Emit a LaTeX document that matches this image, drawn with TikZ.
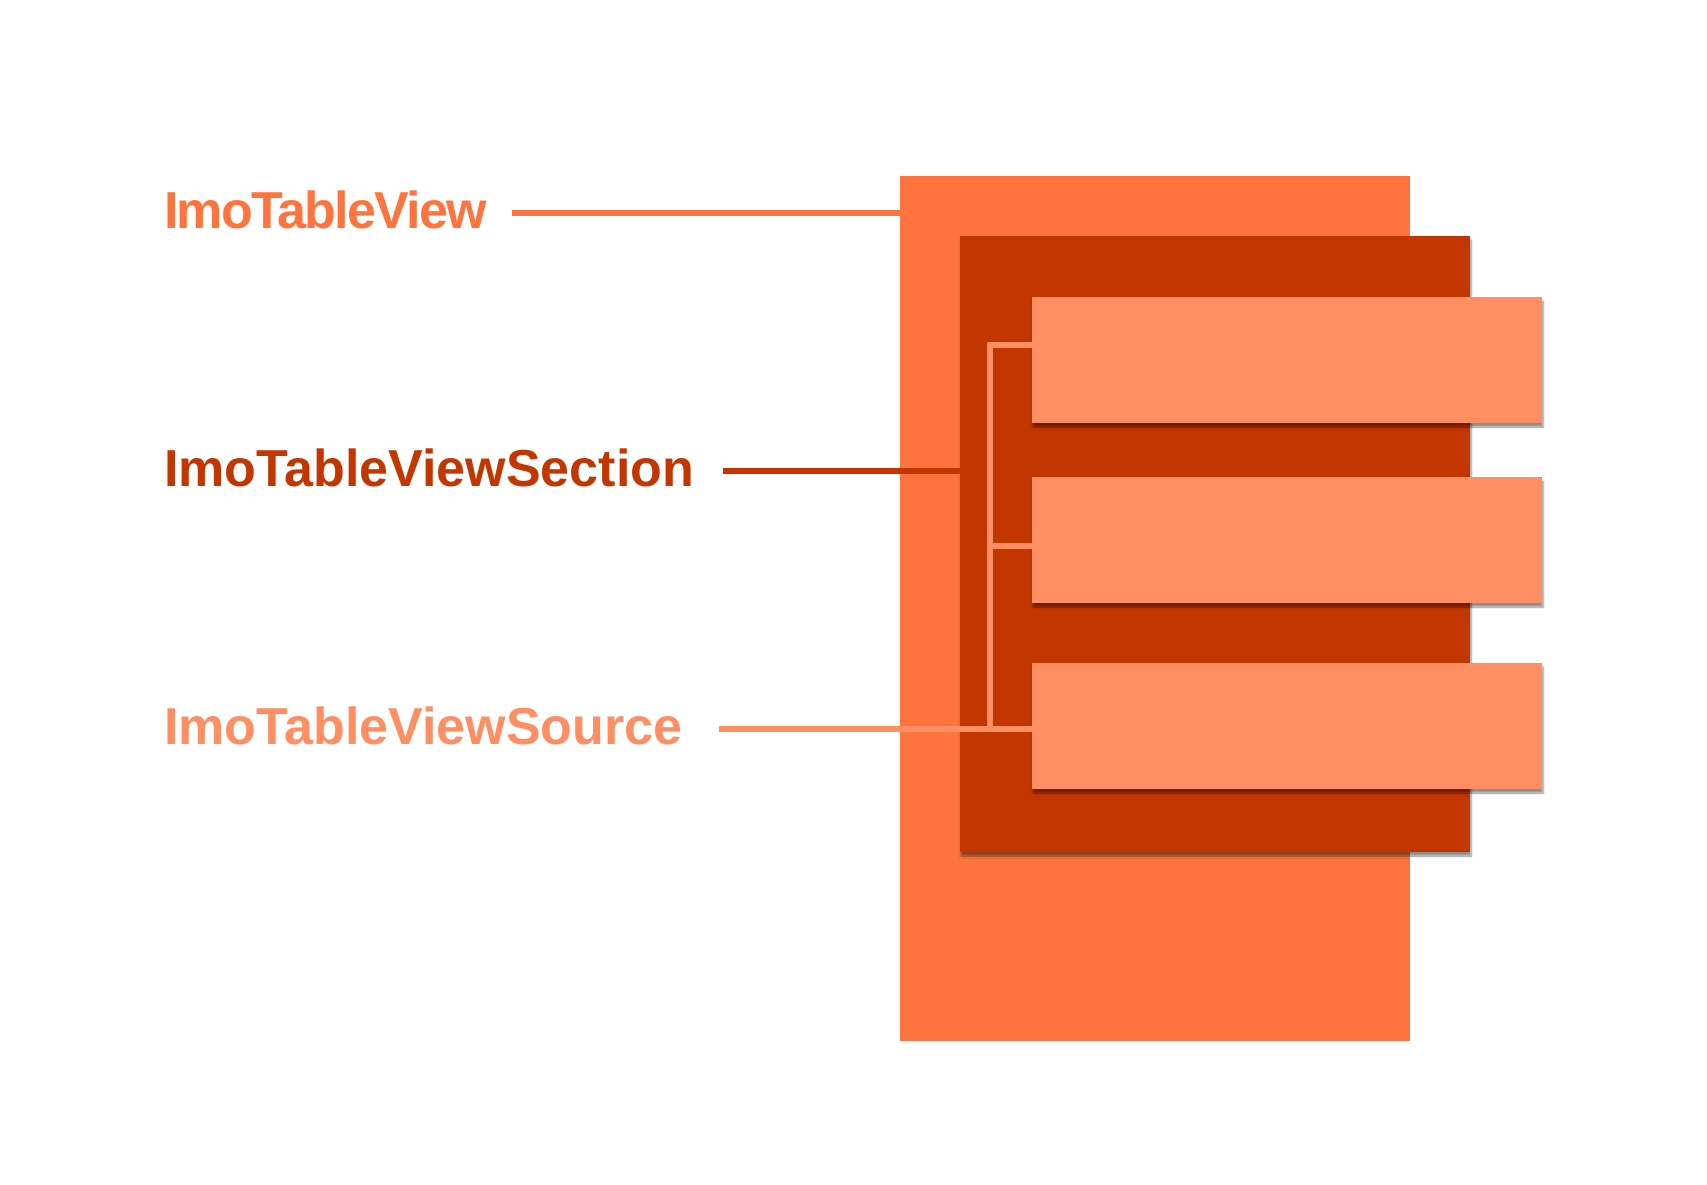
\documentclass[tikz,border=0pt]{standalone}
\usepackage{fontspec}
\setmainfont{Liberation Sans}
\usetikzlibrary{shadows.blur}
\definecolor{viewcol}{HTML}{FF743E}
\definecolor{sectioncol}{HTML}{C43600}
\definecolor{sourcecol}{HTML}{FF8F62}

\begin{document}
\begin{tikzpicture}[x=1pt,y=-1pt,
    box/.style={fill=#1,inner sep=0,outer sep=0,anchor=north west,minimum width=510},
    shade/.style={blur shadow={shadow xshift=1pt,shadow yshift=-4pt,shadow blur steps=6,shadow opacity=45}},
    lbl/.style={text=#1,font=\fontsize{52}{60}\selectfont\bfseries,inner sep=0,anchor=west,text height=37pt,text depth=7pt},
    link/.style={draw=#1,line width=6pt}]
  \useasboundingbox (0,0) rectangle (1707,1185);
  % the three nested views
  \node[box=viewcol,minimum height=865] (view) at (900,176) {};
  \node[box=sectioncol,minimum height=616,shade] (section) at (960,236) {};
  \foreach \y/\n in {297/row1,477/row2,663/row3}
    \node[box=sourcecol,minimum height=126,shade] (\n) at (1032,\y) {};
  % labels
  \node[lbl=viewcol] (lblview) at (164,213) {\addfontfeature{LetterSpace=-3.4}ImoTableView};
  \node[lbl=sectioncol] (lblsection) at (164,471) {ImoTableViewSection};
  \node[lbl=sourcecol] (lblsource) at (164,729) {ImoTableViewSource};
  \draw[link=viewcol] ([xshift=25]lblview.east) -- (lblview.east -| view.west);
  \draw[link=sectioncol] ([xshift=29]lblsection.east) -- (lblsection.east -| section.west);
  % source bracket
  \coordinate (fork) at (990,729);
  \draw[link=sourcecol] ([yshift=15]row1.west) -| (fork);
  \draw[link=sourcecol] ([yshift=-6]row2.west) -- ++(-42,0);
  \draw[link=sourcecol] ([xshift=36]lblsource.east) -- (lblsource.east -| row3.west);
\end{tikzpicture}
\end{document}
